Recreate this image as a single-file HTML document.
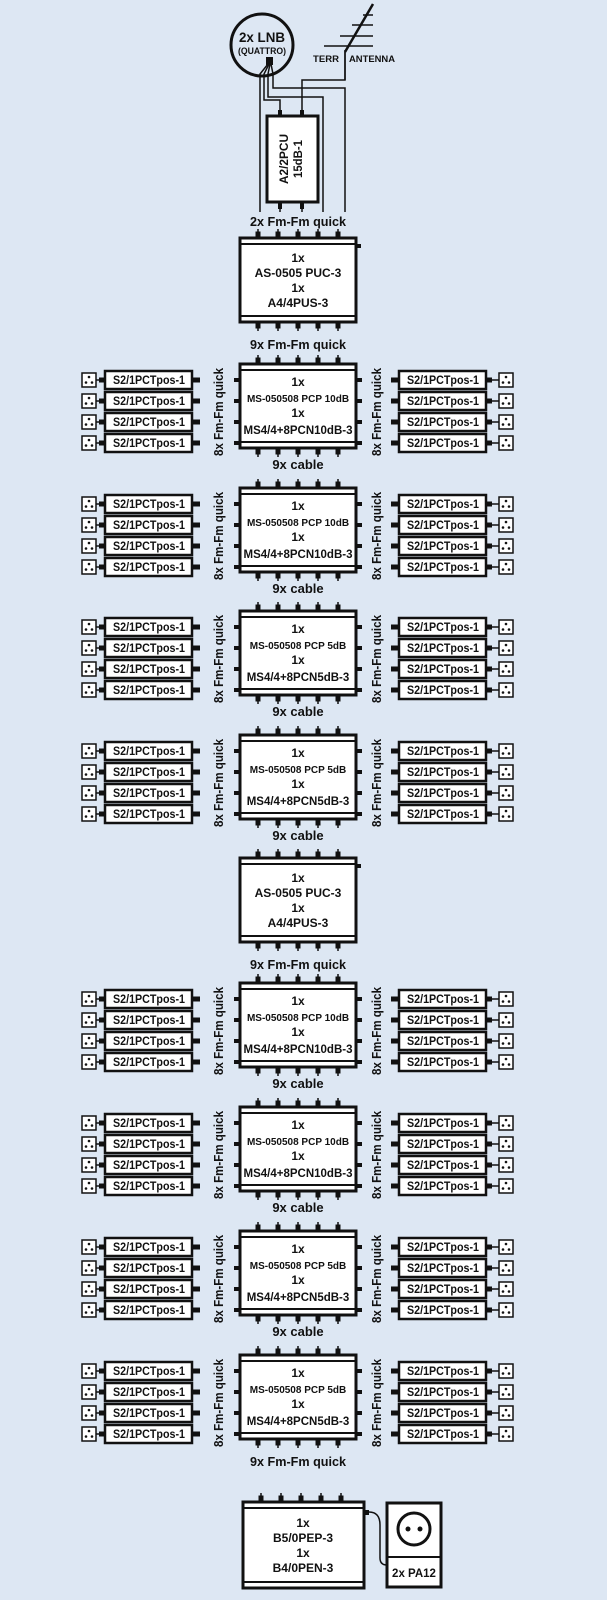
<!DOCTYPE html>
<html><head><meta charset="utf-8"><style>
html,body{margin:0;padding:0;background:#dde7f3;}
svg{display:block;}
text{font-family:"Liberation Sans",Arial,sans-serif;font-weight:bold;fill:#111;}
</style></head><body>
<svg width="607" height="1600" viewBox="0 0 607 1600" xmlns="http://www.w3.org/2000/svg">
<rect width="607" height="1600" fill="#dde7f3"/>
<defs>
<g id="pins" stroke="#111" fill="#111">
 <g stroke-width="1.5">
 <line x1="258" y1="-9" x2="258" y2="0"/><line x1="278" y1="-9" x2="278" y2="0"/><line x1="298" y1="-9" x2="298" y2="0"/><line x1="318" y1="-9" x2="318" y2="0"/><line x1="338" y1="-9" x2="338" y2="0"/>
 </g>
 <rect x="256" y="-6" width="4" height="6"/><rect x="276" y="-6" width="4" height="6"/><rect x="296" y="-6" width="4" height="6"/><rect x="316" y="-6" width="4" height="6"/><rect x="336" y="-6" width="4" height="6"/>
</g>
<g id="tapL">
 <rect x="82" y="-7" width="14" height="14" fill="#fff" stroke="#111" stroke-width="1.5"/>
 <circle cx="89" cy="-3" r="1.3" fill="#111"/><circle cx="86" cy="2.5" r="1.3" fill="#111"/><circle cx="92" cy="2.5" r="1.3" fill="#111"/>
 <line x1="96" y1="0" x2="104" y2="0" stroke="#111" stroke-width="1.5"/>
 <rect x="99" y="-2.5" width="5" height="5" fill="#111"/>
 <rect x="105" y="-9" width="87" height="18" fill="#fff" stroke="#111" stroke-width="2.5"/>
 <rect x="193" y="-2.5" width="7" height="5" fill="#111"/>
</g>
<g id="tapR">
 <rect x="391" y="-2.5" width="7" height="5" fill="#111"/>
 <rect x="399" y="-9" width="87" height="18" fill="#fff" stroke="#111" stroke-width="2.5"/>
 <rect x="487" y="-2.5" width="5" height="5" fill="#111"/>
 <line x1="487" y1="0" x2="499" y2="0" stroke="#111" stroke-width="1.5"/>
 <rect x="499" y="-7" width="14" height="14" fill="#fff" stroke="#111" stroke-width="1.5"/>
 <circle cx="506" cy="-3" r="1.3" fill="#111"/><circle cx="503" cy="2.5" r="1.3" fill="#111"/><circle cx="509" cy="2.5" r="1.3" fill="#111"/>
</g>
<g id="box">
 <rect x="240" y="0" width="116" height="84" fill="#fff" stroke="#111" stroke-width="3"/>
 <line x1="240" y1="6" x2="356" y2="6" stroke="#111" stroke-width="2"/>
 <line x1="240" y1="78" x2="356" y2="78" stroke="#111" stroke-width="2"/>
 <use href="#pins"/>
 <use href="#pins" transform="translate(0,84) scale(1,-1)"/>
</g>
<g id="ms">
 <use href="#box"/>
 <g fill="#111">
 <rect x="234" y="14" width="6" height="4"/><rect x="234" y="35" width="6" height="4"/><rect x="234" y="56" width="6" height="4"/><rect x="234" y="77" width="6" height="4"/>
 <rect x="356" y="14" width="6" height="4"/><rect x="356" y="35" width="6" height="4"/><rect x="356" y="56" width="6" height="4"/><rect x="356" y="77" width="6" height="4"/>
 </g>
 <use href="#tapL" y="16"/><use href="#tapL" y="37"/><use href="#tapL" y="58"/><use href="#tapL" y="79"/>
 <use href="#tapR" y="16"/><use href="#tapR" y="37"/><use href="#tapR" y="58"/><use href="#tapR" y="79"/>
</g>
</defs>

<!-- top -->
<circle cx="262" cy="45" r="31" fill="none" stroke="#111" stroke-width="3"/>
<text x="262" y="42" font-size="14" text-anchor="middle" textLength="46" lengthAdjust="spacingAndGlyphs">2x LNB</text>
<text x="262" y="54" font-size="9" text-anchor="middle" textLength="48" lengthAdjust="spacingAndGlyphs">(QUATTRO)</text>
<rect x="266" y="57" width="7" height="8" fill="#111"/>
<g stroke="#111" stroke-width="1.5" fill="none">
 <polyline points="268,64 260,74 260,212"/>
 <polyline points="269,64 264,74 264,100 280,100 280,115"/>
 <polyline points="270,64 268,74 268,97 323,97 323,212"/>
 <polyline points="271,64 273,74 273,88 345,88 345,212"/>
 <polyline points="345,50 345,80 302,80 302,115"/>
 <line x1="373" y1="4" x2="345" y2="52" stroke-width="2.5"/>
 <line x1="345" y1="52" x2="345" y2="80"/>
 <line x1="363" y1="15" x2="373" y2="15"/>
 <line x1="352" y1="25" x2="373" y2="25"/>
 <line x1="340" y1="36" x2="373" y2="36"/>
 <line x1="324" y1="46" x2="373" y2="46"/>
</g>
<text x="313" y="62" font-size="9.5" textLength="26" lengthAdjust="spacingAndGlyphs">TERR</text>
<text x="349" y="62" font-size="9.5" textLength="46" lengthAdjust="spacingAndGlyphs">ANTENNA</text>
<rect x="267" y="116" width="51" height="86" fill="#fff" stroke="#111" stroke-width="3"/>
<rect x="278" y="110" width="4" height="7" fill="#111"/><rect x="300" y="110" width="4" height="7" fill="#111"/>
<rect x="278" y="202" width="4" height="7" fill="#111"/><rect x="300" y="202" width="4" height="7" fill="#111"/>
<line x1="280" y1="202" x2="280" y2="212" stroke="#111" stroke-width="1.5"/><line x1="302" y1="202" x2="302" y2="212" stroke="#111" stroke-width="1.5"/>
<text transform="translate(288,159) rotate(-90)" font-size="12" text-anchor="middle" textLength="50" lengthAdjust="spacingAndGlyphs">A2/2PCU</text>
<text transform="translate(302,159) rotate(-90)" font-size="12" text-anchor="middle" textLength="38" lengthAdjust="spacingAndGlyphs">15dB-1</text>
<text x="298" y="226" font-size="13" text-anchor="middle" textLength="96" lengthAdjust="spacingAndGlyphs">2x Fm-Fm quick</text>

<!-- AS1 -->
<use href="#box" y="238"/>
<rect x="356" y="244" width="5" height="4" fill="#111"/>
<text x="298" y="262" font-size="12" text-anchor="middle">1x</text>
<text x="298" y="277" font-size="12" text-anchor="middle">AS-0505 PUC-3</text>
<text x="298" y="292" font-size="12" text-anchor="middle">1x</text>
<text x="298" y="307" font-size="12" text-anchor="middle">A4/4PUS-3</text>
<text x="298" y="349" font-size="13" text-anchor="middle" textLength="96" lengthAdjust="spacingAndGlyphs">9x Fm-Fm quick</text>

<!-- AS2 -->
<use href="#box" y="858"/>
<rect x="356" y="864" width="5" height="4" fill="#111"/>
<text x="298" y="882" font-size="12" text-anchor="middle">1x</text>
<text x="298" y="897" font-size="12" text-anchor="middle">AS-0505 PUC-3</text>
<text x="298" y="912" font-size="12" text-anchor="middle">1x</text>
<text x="298" y="927" font-size="12" text-anchor="middle">A4/4PUS-3</text>
<text x="298" y="969" font-size="13" text-anchor="middle" textLength="96" lengthAdjust="spacingAndGlyphs">9x Fm-Fm quick</text>

<!-- MS rows -->
<g transform="translate(0,364)">
<use href="#ms"/>
<g font-size="12"><text x="113" y="20" textLength="72" lengthAdjust="spacingAndGlyphs">S2/1PCTpos-1</text><text x="113" y="41" textLength="72" lengthAdjust="spacingAndGlyphs">S2/1PCTpos-1</text><text x="113" y="62" textLength="72" lengthAdjust="spacingAndGlyphs">S2/1PCTpos-1</text><text x="113" y="83" textLength="72" lengthAdjust="spacingAndGlyphs">S2/1PCTpos-1</text>
<text x="407" y="20" textLength="72" lengthAdjust="spacingAndGlyphs">S2/1PCTpos-1</text><text x="407" y="41" textLength="72" lengthAdjust="spacingAndGlyphs">S2/1PCTpos-1</text><text x="407" y="62" textLength="72" lengthAdjust="spacingAndGlyphs">S2/1PCTpos-1</text><text x="407" y="83" textLength="72" lengthAdjust="spacingAndGlyphs">S2/1PCTpos-1</text></g>
<text transform="translate(223,48) rotate(-90)" font-size="13" text-anchor="middle" textLength="88" lengthAdjust="spacingAndGlyphs">8x Fm-Fm quick</text>
<text transform="translate(381,48) rotate(-90)" font-size="13" text-anchor="middle" textLength="88" lengthAdjust="spacingAndGlyphs">8x Fm-Fm quick</text>
<text x="298" y="22" font-size="12" text-anchor="middle">1x</text>
<text x="298" y="38" font-size="10" text-anchor="middle">MS-050508 PCP 10dB</text>
<text x="298" y="53" font-size="12" text-anchor="middle">1x</text>
<text x="298" y="70" font-size="11.5" text-anchor="middle">MS4/4+8PCN10dB-3</text>
<text x="298" y="105" font-size="13" text-anchor="middle">9x cable</text>
</g>
<g transform="translate(0,488)">
<use href="#ms"/>
<g font-size="12"><text x="113" y="20" textLength="72" lengthAdjust="spacingAndGlyphs">S2/1PCTpos-1</text><text x="113" y="41" textLength="72" lengthAdjust="spacingAndGlyphs">S2/1PCTpos-1</text><text x="113" y="62" textLength="72" lengthAdjust="spacingAndGlyphs">S2/1PCTpos-1</text><text x="113" y="83" textLength="72" lengthAdjust="spacingAndGlyphs">S2/1PCTpos-1</text>
<text x="407" y="20" textLength="72" lengthAdjust="spacingAndGlyphs">S2/1PCTpos-1</text><text x="407" y="41" textLength="72" lengthAdjust="spacingAndGlyphs">S2/1PCTpos-1</text><text x="407" y="62" textLength="72" lengthAdjust="spacingAndGlyphs">S2/1PCTpos-1</text><text x="407" y="83" textLength="72" lengthAdjust="spacingAndGlyphs">S2/1PCTpos-1</text></g>
<text transform="translate(223,48) rotate(-90)" font-size="13" text-anchor="middle" textLength="88" lengthAdjust="spacingAndGlyphs">8x Fm-Fm quick</text>
<text transform="translate(381,48) rotate(-90)" font-size="13" text-anchor="middle" textLength="88" lengthAdjust="spacingAndGlyphs">8x Fm-Fm quick</text>
<text x="298" y="22" font-size="12" text-anchor="middle">1x</text>
<text x="298" y="38" font-size="10" text-anchor="middle">MS-050508 PCP 10dB</text>
<text x="298" y="53" font-size="12" text-anchor="middle">1x</text>
<text x="298" y="70" font-size="11.5" text-anchor="middle">MS4/4+8PCN10dB-3</text>
<text x="298" y="105" font-size="13" text-anchor="middle">9x cable</text>
</g>
<g transform="translate(0,611)">
<use href="#ms"/>
<g font-size="12"><text x="113" y="20" textLength="72" lengthAdjust="spacingAndGlyphs">S2/1PCTpos-1</text><text x="113" y="41" textLength="72" lengthAdjust="spacingAndGlyphs">S2/1PCTpos-1</text><text x="113" y="62" textLength="72" lengthAdjust="spacingAndGlyphs">S2/1PCTpos-1</text><text x="113" y="83" textLength="72" lengthAdjust="spacingAndGlyphs">S2/1PCTpos-1</text>
<text x="407" y="20" textLength="72" lengthAdjust="spacingAndGlyphs">S2/1PCTpos-1</text><text x="407" y="41" textLength="72" lengthAdjust="spacingAndGlyphs">S2/1PCTpos-1</text><text x="407" y="62" textLength="72" lengthAdjust="spacingAndGlyphs">S2/1PCTpos-1</text><text x="407" y="83" textLength="72" lengthAdjust="spacingAndGlyphs">S2/1PCTpos-1</text></g>
<text transform="translate(223,48) rotate(-90)" font-size="13" text-anchor="middle" textLength="88" lengthAdjust="spacingAndGlyphs">8x Fm-Fm quick</text>
<text transform="translate(381,48) rotate(-90)" font-size="13" text-anchor="middle" textLength="88" lengthAdjust="spacingAndGlyphs">8x Fm-Fm quick</text>
<text x="298" y="22" font-size="12" text-anchor="middle">1x</text>
<text x="298" y="38" font-size="10" text-anchor="middle">MS-050508 PCP 5dB</text>
<text x="298" y="53" font-size="12" text-anchor="middle">1x</text>
<text x="298" y="70" font-size="11.5" text-anchor="middle">MS4/4+8PCN5dB-3</text>
<text x="298" y="105" font-size="13" text-anchor="middle">9x cable</text>
</g>
<g transform="translate(0,735)">
<use href="#ms"/>
<g font-size="12"><text x="113" y="20" textLength="72" lengthAdjust="spacingAndGlyphs">S2/1PCTpos-1</text><text x="113" y="41" textLength="72" lengthAdjust="spacingAndGlyphs">S2/1PCTpos-1</text><text x="113" y="62" textLength="72" lengthAdjust="spacingAndGlyphs">S2/1PCTpos-1</text><text x="113" y="83" textLength="72" lengthAdjust="spacingAndGlyphs">S2/1PCTpos-1</text>
<text x="407" y="20" textLength="72" lengthAdjust="spacingAndGlyphs">S2/1PCTpos-1</text><text x="407" y="41" textLength="72" lengthAdjust="spacingAndGlyphs">S2/1PCTpos-1</text><text x="407" y="62" textLength="72" lengthAdjust="spacingAndGlyphs">S2/1PCTpos-1</text><text x="407" y="83" textLength="72" lengthAdjust="spacingAndGlyphs">S2/1PCTpos-1</text></g>
<text transform="translate(223,48) rotate(-90)" font-size="13" text-anchor="middle" textLength="88" lengthAdjust="spacingAndGlyphs">8x Fm-Fm quick</text>
<text transform="translate(381,48) rotate(-90)" font-size="13" text-anchor="middle" textLength="88" lengthAdjust="spacingAndGlyphs">8x Fm-Fm quick</text>
<text x="298" y="22" font-size="12" text-anchor="middle">1x</text>
<text x="298" y="38" font-size="10" text-anchor="middle">MS-050508 PCP 5dB</text>
<text x="298" y="53" font-size="12" text-anchor="middle">1x</text>
<text x="298" y="70" font-size="11.5" text-anchor="middle">MS4/4+8PCN5dB-3</text>
<text x="298" y="105" font-size="13" text-anchor="middle">9x cable</text>
</g>
<g transform="translate(0,983)">
<use href="#ms"/>
<g font-size="12"><text x="113" y="20" textLength="72" lengthAdjust="spacingAndGlyphs">S2/1PCTpos-1</text><text x="113" y="41" textLength="72" lengthAdjust="spacingAndGlyphs">S2/1PCTpos-1</text><text x="113" y="62" textLength="72" lengthAdjust="spacingAndGlyphs">S2/1PCTpos-1</text><text x="113" y="83" textLength="72" lengthAdjust="spacingAndGlyphs">S2/1PCTpos-1</text>
<text x="407" y="20" textLength="72" lengthAdjust="spacingAndGlyphs">S2/1PCTpos-1</text><text x="407" y="41" textLength="72" lengthAdjust="spacingAndGlyphs">S2/1PCTpos-1</text><text x="407" y="62" textLength="72" lengthAdjust="spacingAndGlyphs">S2/1PCTpos-1</text><text x="407" y="83" textLength="72" lengthAdjust="spacingAndGlyphs">S2/1PCTpos-1</text></g>
<text transform="translate(223,48) rotate(-90)" font-size="13" text-anchor="middle" textLength="88" lengthAdjust="spacingAndGlyphs">8x Fm-Fm quick</text>
<text transform="translate(381,48) rotate(-90)" font-size="13" text-anchor="middle" textLength="88" lengthAdjust="spacingAndGlyphs">8x Fm-Fm quick</text>
<text x="298" y="22" font-size="12" text-anchor="middle">1x</text>
<text x="298" y="38" font-size="10" text-anchor="middle">MS-050508 PCP 10dB</text>
<text x="298" y="53" font-size="12" text-anchor="middle">1x</text>
<text x="298" y="70" font-size="11.5" text-anchor="middle">MS4/4+8PCN10dB-3</text>
<text x="298" y="105" font-size="13" text-anchor="middle">9x cable</text>
</g>
<g transform="translate(0,1107)">
<use href="#ms"/>
<g font-size="12"><text x="113" y="20" textLength="72" lengthAdjust="spacingAndGlyphs">S2/1PCTpos-1</text><text x="113" y="41" textLength="72" lengthAdjust="spacingAndGlyphs">S2/1PCTpos-1</text><text x="113" y="62" textLength="72" lengthAdjust="spacingAndGlyphs">S2/1PCTpos-1</text><text x="113" y="83" textLength="72" lengthAdjust="spacingAndGlyphs">S2/1PCTpos-1</text>
<text x="407" y="20" textLength="72" lengthAdjust="spacingAndGlyphs">S2/1PCTpos-1</text><text x="407" y="41" textLength="72" lengthAdjust="spacingAndGlyphs">S2/1PCTpos-1</text><text x="407" y="62" textLength="72" lengthAdjust="spacingAndGlyphs">S2/1PCTpos-1</text><text x="407" y="83" textLength="72" lengthAdjust="spacingAndGlyphs">S2/1PCTpos-1</text></g>
<text transform="translate(223,48) rotate(-90)" font-size="13" text-anchor="middle" textLength="88" lengthAdjust="spacingAndGlyphs">8x Fm-Fm quick</text>
<text transform="translate(381,48) rotate(-90)" font-size="13" text-anchor="middle" textLength="88" lengthAdjust="spacingAndGlyphs">8x Fm-Fm quick</text>
<text x="298" y="22" font-size="12" text-anchor="middle">1x</text>
<text x="298" y="38" font-size="10" text-anchor="middle">MS-050508 PCP 10dB</text>
<text x="298" y="53" font-size="12" text-anchor="middle">1x</text>
<text x="298" y="70" font-size="11.5" text-anchor="middle">MS4/4+8PCN10dB-3</text>
<text x="298" y="105" font-size="13" text-anchor="middle">9x cable</text>
</g>
<g transform="translate(0,1231)">
<use href="#ms"/>
<g font-size="12"><text x="113" y="20" textLength="72" lengthAdjust="spacingAndGlyphs">S2/1PCTpos-1</text><text x="113" y="41" textLength="72" lengthAdjust="spacingAndGlyphs">S2/1PCTpos-1</text><text x="113" y="62" textLength="72" lengthAdjust="spacingAndGlyphs">S2/1PCTpos-1</text><text x="113" y="83" textLength="72" lengthAdjust="spacingAndGlyphs">S2/1PCTpos-1</text>
<text x="407" y="20" textLength="72" lengthAdjust="spacingAndGlyphs">S2/1PCTpos-1</text><text x="407" y="41" textLength="72" lengthAdjust="spacingAndGlyphs">S2/1PCTpos-1</text><text x="407" y="62" textLength="72" lengthAdjust="spacingAndGlyphs">S2/1PCTpos-1</text><text x="407" y="83" textLength="72" lengthAdjust="spacingAndGlyphs">S2/1PCTpos-1</text></g>
<text transform="translate(223,48) rotate(-90)" font-size="13" text-anchor="middle" textLength="88" lengthAdjust="spacingAndGlyphs">8x Fm-Fm quick</text>
<text transform="translate(381,48) rotate(-90)" font-size="13" text-anchor="middle" textLength="88" lengthAdjust="spacingAndGlyphs">8x Fm-Fm quick</text>
<text x="298" y="22" font-size="12" text-anchor="middle">1x</text>
<text x="298" y="38" font-size="10" text-anchor="middle">MS-050508 PCP 5dB</text>
<text x="298" y="53" font-size="12" text-anchor="middle">1x</text>
<text x="298" y="70" font-size="11.5" text-anchor="middle">MS4/4+8PCN5dB-3</text>
<text x="298" y="105" font-size="13" text-anchor="middle">9x cable</text>
</g>
<g transform="translate(0,1355)">
<use href="#ms"/>
<g font-size="12"><text x="113" y="20" textLength="72" lengthAdjust="spacingAndGlyphs">S2/1PCTpos-1</text><text x="113" y="41" textLength="72" lengthAdjust="spacingAndGlyphs">S2/1PCTpos-1</text><text x="113" y="62" textLength="72" lengthAdjust="spacingAndGlyphs">S2/1PCTpos-1</text><text x="113" y="83" textLength="72" lengthAdjust="spacingAndGlyphs">S2/1PCTpos-1</text>
<text x="407" y="20" textLength="72" lengthAdjust="spacingAndGlyphs">S2/1PCTpos-1</text><text x="407" y="41" textLength="72" lengthAdjust="spacingAndGlyphs">S2/1PCTpos-1</text><text x="407" y="62" textLength="72" lengthAdjust="spacingAndGlyphs">S2/1PCTpos-1</text><text x="407" y="83" textLength="72" lengthAdjust="spacingAndGlyphs">S2/1PCTpos-1</text></g>
<text transform="translate(223,48) rotate(-90)" font-size="13" text-anchor="middle" textLength="88" lengthAdjust="spacingAndGlyphs">8x Fm-Fm quick</text>
<text transform="translate(381,48) rotate(-90)" font-size="13" text-anchor="middle" textLength="88" lengthAdjust="spacingAndGlyphs">8x Fm-Fm quick</text>
<text x="298" y="22" font-size="12" text-anchor="middle">1x</text>
<text x="298" y="38" font-size="10" text-anchor="middle">MS-050508 PCP 5dB</text>
<text x="298" y="53" font-size="12" text-anchor="middle">1x</text>
<text x="298" y="70" font-size="11.5" text-anchor="middle">MS4/4+8PCN5dB-3</text>
<text x="298" y="111" font-size="13" text-anchor="middle" textLength="96" lengthAdjust="spacingAndGlyphs">9x Fm-Fm quick</text>
</g>

<!-- bottom -->
<rect x="243" y="1502" width="121" height="86" fill="#fff" stroke="#111" stroke-width="3"/>
<line x1="243" y1="1508" x2="364" y2="1508" stroke="#111" stroke-width="2"/>
<line x1="243" y1="1582" x2="364" y2="1582" stroke="#111" stroke-width="2"/>
<use href="#pins" transform="translate(3,1502)"/>
<rect x="364" y="1510" width="5" height="5" fill="#111"/>
<path d="M369,1512 Q380,1512 380,1525 L380,1558 Q380,1565 387,1565" fill="none" stroke="#111" stroke-width="1.5"/>
<text x="303" y="1527" font-size="12" text-anchor="middle">1x</text>
<text x="303" y="1542" font-size="12" text-anchor="middle">B5/0PEP-3</text>
<text x="303" y="1557" font-size="12" text-anchor="middle">1x</text>
<text x="303" y="1572" font-size="12" text-anchor="middle">B4/0PEN-3</text>
<rect x="387" y="1503" width="54" height="84" fill="#fff" stroke="#111" stroke-width="3"/>
<line x1="387" y1="1557" x2="441" y2="1557" stroke="#111" stroke-width="2"/>
<circle cx="414" cy="1529" r="16" fill="none" stroke="#111" stroke-width="3"/>
<circle cx="408" cy="1529" r="2.5" fill="#111"/><circle cx="420" cy="1529" r="2.5" fill="#111"/>
<text x="414" y="1577" font-size="11.5" text-anchor="middle">2x PA12</text>
</svg>
</body></html>
